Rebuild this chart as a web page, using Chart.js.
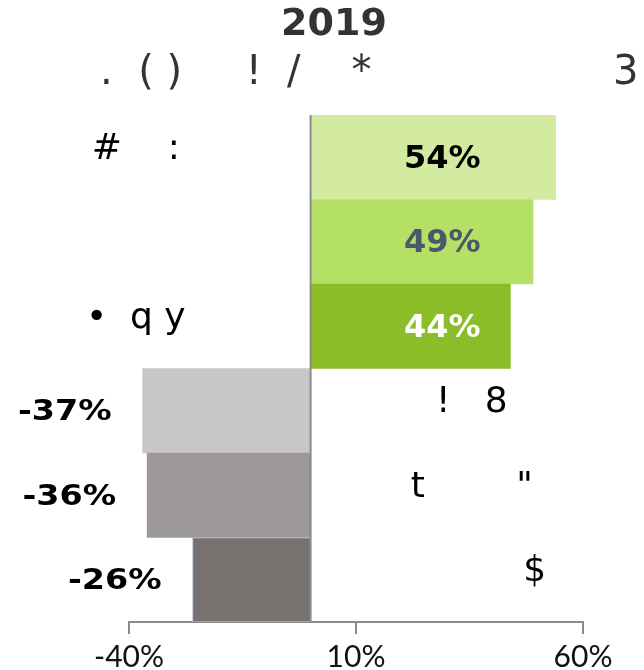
<!DOCTYPE html>
<html>
<head>
<meta charset="utf-8">
<script src="https://cdn.jsdelivr.net/npm/chart.js@4"></script>
<style>
  html, body { margin: 0; padding: 0; background: #fff; }
  #wrap { width: 644px; height: 670px; }
</style>
</head>
<body>
<div id="wrap"><canvas id="c"></canvas></div>
<script>
// data
title    = '2019'
subtitle = '.  ( )     !  /    *                   3'
categories = ['#    :', '', '\u2022  q y', '!   8', 't        "', '           $']
values     = [54, 49, 44, -37, -36, -26]
colors     = ['#d3eba0', '#b4e066', '#8abd27', '#c8c6c7', '#9d9998', '#77726f']
labelColors = ['#000000', '#4b576b', '#ffffff', '#000000', '#000000', '#000000']
xTicks = [-40, 10, 60]

// texts drawn around the bars
textPlugin = {
  id: 'texts',
  afterDatasetsDraw(chart) {
    var ctx = chart.ctx, x = chart.scales.x, y = chart.scales.y, a = chart.chartArea
    ctx.save()
    // zero line
    var x0 = x.getPixelForValue(0)
    ctx.strokeStyle = '#8a8a8a'
    ctx.lineWidth = 2
    ctx.beginPath()
    ctx.moveTo(x0, a.top)
    ctx.lineTo(x0, a.bottom)
    ctx.stroke()

    // title + subtitle
    ctx.fillStyle = '#333'
    ctx.textBaseline = 'middle'
    ctx.textAlign = 'center'
    ctx.font = 'bold 38px "DejaVu Sans"'
    ctx.fillText(title, 334, 25)
    ctx.textAlign = 'left'
    ctx.font = '40px "DejaVu Sans"'
    ctx.fillText(subtitle, 100, 74)

    for (var i = 0; i < values.length; i++) {
      var v = values[i], yc = y.getPixelForValue(i)
      // value labels
      ctx.fillStyle = labelColors[i]
      if (v >= 0) {
        ctx.font = 'bold 32px "DejaVu Sans"'
        ctx.textAlign = 'center'
        ctx.fillText(v + '%', x.getPixelForValue(29), yc + 2)
      } else {
        ctx.save()
        ctx.translate(x.getPixelForValue(v) - 31, yc + 2)
        ctx.scale(1.15, 1)
        ctx.font = 'bold 29px "DejaVu Sans"'
        ctx.textAlign = 'right'
        ctx.fillText(v + '%', 0, 0)
        ctx.restore()
      }
      // category names on the other side
      ctx.fillStyle = '#000'
      ctx.font = '36px "DejaVu Sans"'
      ctx.textAlign = 'center'
      var cx = v >= 0 ? x.getPixelForValue(-38.5) : x.getPixelForValue(35.5)
      ctx.fillText(categories[i], cx, yc - 8)
    }
    ctx.restore()
  }
}

new Chart(document.getElementById('c'), {
  type: 'bar',
  data: {
    labels: categories,
    datasets: [{
      data: values,
      backgroundColor: colors,
      borderColor: values.map((v, i) => i == values.length - 1 ? '#a9b8cf' : 'rgba(0,0,0,0)'),
      borderWidth: values.map((v, i) => i == values.length - 1 ? 1 : 0),
      borderSkipped: false,
      categoryPercentage: 1,
      barPercentage: 1
    }]
  },
  options: {
    indexAxis: 'y',
    responsive: true,
    maintainAspectRatio: false,
    animation: false,
    layout: { padding: { top: 115, left: 129, right: 61, bottom: 0 } },
    plugins: { legend: { display: false }, tooltip: { enabled: false } },
    scales: {
      y: { display: false },
      x: {
        min: -40, max: 60,
        afterBuildTicks: s => { s.ticks = xTicks.map(v => ({ value: v })) },
        afterFit: s => { s.height = 48 },
        border: { color: '#8a8a8a', width: 2 },
        grid: { drawOnChartArea: false, color: '#8a8a8a', lineWidth: 2, tickLength: 12 },
        ticks: {
          padding: 5,
          color: '#111',
          font: { family: 'Lato', size: 30 },
          callback: v => v + '%'
        }
      }
    }
  },
  plugins: [textPlugin]
})
</script>
</body>
</html>
